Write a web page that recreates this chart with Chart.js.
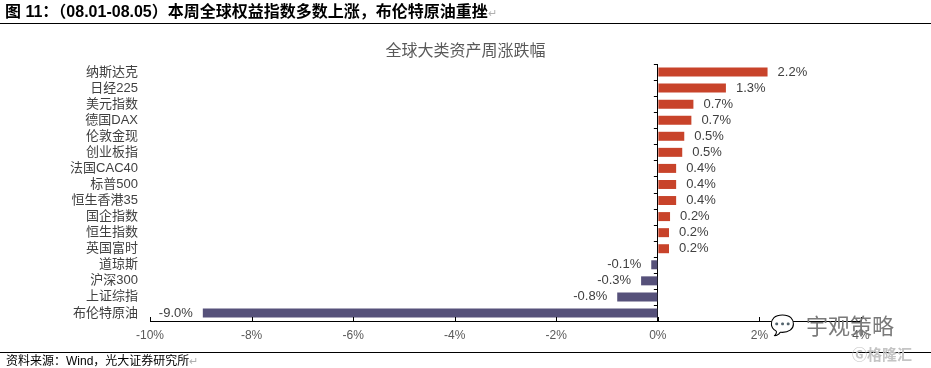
<!DOCTYPE html>
<html>
<head>
<meta charset="utf-8">
<script src="https://cdn.jsdelivr.net/npm/chart.js@4"></script>
<style>
html,body{margin:0;padding:0;background:#fff;width:931px;height:368px;overflow:hidden;}
#wrap{position:relative;width:931px;height:368px;}
#chart{position:absolute;left:0;top:0;}
.hdr{position:absolute;left:5px;top:2px;font:bold 16px "Liberation Sans","Noto Sans CJK SC",sans-serif;color:#000;white-space:nowrap;line-height:19px;}
.ret{color:#b0b0b0;font-weight:normal;font-size:11px;}
.hline{position:absolute;left:0;top:23px;width:931px;height:0;border-top:1.5px solid #000;}
.ttl{position:absolute;left:0;top:41px;width:931px;text-align:center;font:16px "Liberation Sans","Noto Sans CJK SC",sans-serif;color:#595959;line-height:20px;}
.fline{position:absolute;left:0;top:351.5px;width:931px;height:0;border-top:1.5px solid #000;}
.ftr{position:absolute;left:6px;top:354px;font:12px "Liberation Sans","Noto Sans CJK SC",sans-serif;color:#000;white-space:nowrap;line-height:15px;}
.wm1{position:absolute;left:806px;top:311px;font:22px "Noto Sans CJK SC",sans-serif;color:#7a7a7a;white-space:nowrap;line-height:26px;}
.wmicon{position:absolute;left:770px;top:313px;font:20px "DejaVu Sans",sans-serif;color:#9a9a9a;line-height:24px;}
.wm2{position:absolute;left:852px;top:344px;font:bold 15px "Noto Sans CJK SC",sans-serif;color:#c4c4c4;white-space:nowrap;line-height:20px;}
</style>
</head>
<body>
<div id="wrap">
  <canvas id="chart" width="931" height="368"></canvas>
  <div class="hdr">图 11：（08.01-08.05）本周全球权益指数多数上涨，布伦特原油重挫<span class="ret">↵</span></div>
  <div class="hline"></div>
  <div class="ttl" id="ttl"></div>
  <div class="fline"></div>
  <div class="ftr">资料来源：Wind，光大证券研究所<span class="ret">↵</span></div>
  <div class="wmicon">💬</div>
  <div class="wm1">宇观策略</div>
  <div class="wm2">Ⓖ格隆汇</div>
</div>
<script>
const categories = ['纳斯达克','日经225','美元指数','德国DAX','伦敦金现','创业板指','法国CAC40','标普500','恒生香港35','国企指数','恒生指数','英国富时','道琼斯','沪深300','上证综指','布伦特原油'];
const weeklyChange = [2.16,1.34,0.70,0.66,0.52,0.48,0.36,0.36,0.36,0.24,0.22,0.22,-0.13,-0.33,-0.80,-8.96];
const xTickValues = [-10,-8,-6,-4,-2,0,2,4];
const chartTitle = '全球大类资产周涨跌幅';

document.getElementById('ttl').textContent = chartTitle;

const posColor = '#C8432A';
const negColor = '#56517A';
const fontFam = '"Liberation Sans","Noto Sans CJK SC",sans-serif';

const decorPlugin = {
  id: 'decor',
  afterDatasetsDraw(chart) {
    const ctx = chart.ctx;
    const xs = chart.scales.x, ys = chart.scales.y;
    const area = chart.chartArea;
    const x0 = xs.getPixelForValue(0);
    ctx.save();
    ctx.strokeStyle = '#000';
    ctx.lineWidth = 1;
    for (let i = 0; i <= categories.length; i++) {
      const y = Math.round(ys.getPixelForValue(i - 0.5)) + 0.5;
      ctx.beginPath();
      ctx.moveTo(x0 - 4, y);
      ctx.lineTo(x0, y);
      ctx.stroke();
    }
    xTickValues.forEach(v => {
      const x = Math.round(xs.getPixelForValue(v)) + 0.5;
      ctx.beginPath();
      ctx.moveTo(x, area.bottom);
      ctx.lineTo(x, area.bottom - 4);
      ctx.stroke();
    });
    const meta = chart.getDatasetMeta(0);
    ctx.font = '13px ' + fontFam;
    ctx.fillStyle = '#404040';
    ctx.textBaseline = 'middle';
    meta.data.forEach((bar, i) => {
      const v = weeklyChange[i];
      const txt = v.toFixed(1) + '%';
      if (v >= 0) {
        ctx.textAlign = 'left';
        ctx.fillText(txt, bar.x + 10, bar.y);
      } else {
        ctx.textAlign = 'right';
        ctx.fillText(txt, bar.x - 10, bar.y);
      }
    });
    ctx.restore();
  }
};

new Chart(document.getElementById('chart'), {
  type: 'bar',
  data: {
    labels: categories,
    datasets: [{
      data: weeklyChange,
      backgroundColor: weeklyChange.map(v => v >= 0 ? posColor : negColor),
      barPercentage: 0.56,
      categoryPercentage: 1.0
    }]
  },
  options: {
    indexAxis: 'y',
    responsive: false,
    animation: false,
    devicePixelRatio: 1,
    layout: { padding: { left: 0, right: 70, top: 64, bottom: 23 } },
    plugins: {
      legend: { display: false },
      tooltip: { enabled: false },
      title: { display: false }
    },
    scales: {
      x: {
        min: -10,
        max: 4,
        afterBuildTicks: s => { s.ticks = xTickValues.map(v => ({ value: v })); },
        afterFit: s => { s.height = 24; },
        ticks: {
          callback: v => v + '%',
          color: '#595959',
          font: { size: 12, family: fontFam },
          padding: 7,
          maxRotation: 0
        },
        grid: {
          drawTicks: false,
          color: c => (c.tick && c.tick.value === 0) ? '#000' : 'rgba(0,0,0,0)',
          lineWidth: 1
        },
        border: { display: true, color: '#000', width: 1 }
      },
      y: {
        afterFit: s => { s.width = 150; },
        grid: { display: false, drawTicks: false },
        border: { display: false },
        ticks: {
          color: '#404040',
          font: { size: 13, family: fontFam },
          padding: 12,
          autoSkip: false
        }
      }
    }
  },
  plugins: [decorPlugin]
});
</script>
</body>
</html>
